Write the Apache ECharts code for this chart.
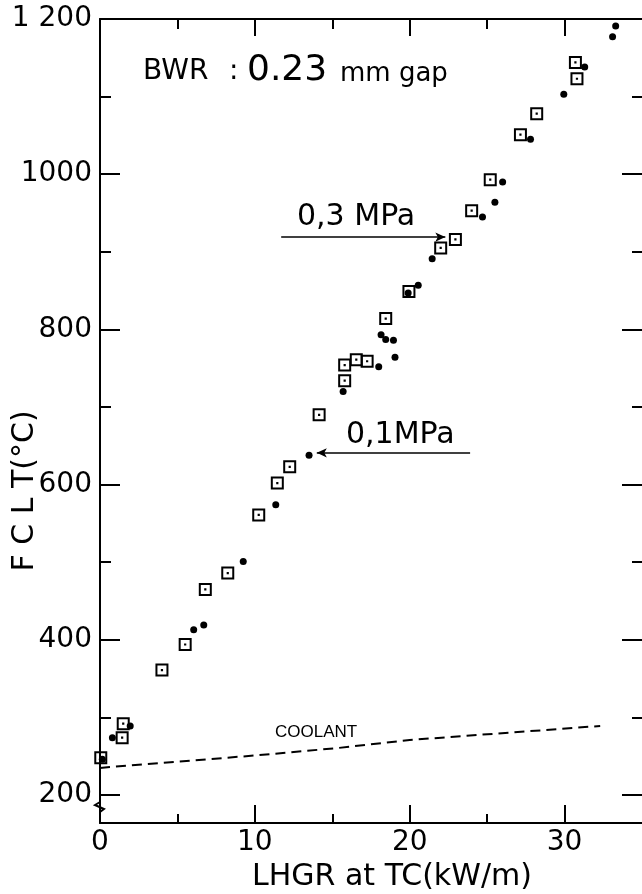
<!DOCTYPE html>
<html>
<head>
<meta charset="utf-8">
<script src="https://cdn.jsdelivr.net/npm/echarts@6/dist/echarts.min.js"></script>
<style>
  html, body { margin: 0; padding: 0; background: #fff; }
  #chart { width: 642px; height: 894px; }
</style>
</head>
<body>
<div id="chart"></div>
<script>
// 0.3 MPa runs (open squares with centre dot)
const sqX = [0.05, 1.43, 1.5, 4.0, 5.5, 6.8, 8.25, 10.25, 11.45, 12.25, 14.15, 15.8, 15.8, 16.55, 17.25, 18.45, 19.95, 22.0, 22.95, 24.0, 25.2, 27.15, 28.2, 30.7, 30.8];
const sqY = [248, 274, 292, 361, 394, 465, 486, 561, 602, 623, 690, 734, 754, 761, 759, 814, 849, 905, 916, 953, 993, 1051, 1078, 1144, 1123];

// 0.1 MPa runs (filled dots)
const dotX = [0.15, 0.8, 1.95, 6.05, 6.7, 9.25, 11.35, 13.5, 15.7, 18.0, 19.05, 18.15, 18.45, 18.95, 19.9, 20.55, 21.45, 24.7, 25.5, 26.0, 27.8, 29.95, 31.3, 33.1, 33.3];
const dotY = [246, 274, 289, 413, 419, 501, 574, 638, 720, 752, 764, 793, 787, 786, 847, 857, 891, 945, 964, 990, 1045, 1103, 1138, 1177, 1191];

// coolant temperature (dashed)
const coolX = [0, 10, 15.35, 20, 32.3];
const coolY = [235, 251, 260.6, 271, 289];

// annotation arrows [x, y]
const arrow03 = [[11.7, 919], [22.3, 919]];
const arrow01 = [[23.9, 641], [14.0, 641]];

const xMajor = [0, 10, 20, 30];
const xMinor = [5, 15, 25];
const yMajor = [200, 400, 600, 800, 1000, 1200];
const yMinor = [300, 500, 700, 900, 1100];

const FONT = 'DejaVu Sans';
const zip = (xs, ys) => xs.map((x, i) => [x, ys[i]]);

const squareSym = 'path://M0 0H13V13H0Z M2 2V11H11V2Z M5.4 5.4H7.6V7.6H5.4Z';
const box = { left: 100, right: -5, top: 19, bottom: 71 };
const blackLine = { show: true, onZero: false, lineStyle: { color: '#000', width: 2 } };
const noLine = { show: false, onZero: false };

// grid 0 carries the major ticks, grid 1 (same box) the minor ones
function xAx(grid, pos, ticks, len, extra) {
  return Object.assign({
    type: 'value', position: pos, min: 0, max: 35, gridIndex: grid,
    splitLine: { show: false },
    axisLine: noLine,
    axisTick: { show: true, inside: true, length: len, customValues: ticks, lineStyle: { color: '#000', width: 2 } },
    axisLabel: { show: false }
  }, extra || {});
}
function yAx(grid, pos, ticks, len, extra) {
  return Object.assign({
    type: 'value', position: pos, min: 164, max: 1200, gridIndex: grid,
    splitLine: { show: false },
    axisLine: noLine,
    axisTick: { show: true, inside: true, length: len, customValues: ticks, lineStyle: { color: '#000', width: 2 } },
    axisLabel: { show: false }
  }, extra || {});
}

const chart = echarts.init(document.getElementById('chart'));
chart.setOption({
  backgroundColor: '#fff',
  animation: false,
  grid: [box, box],
  xAxis: [
    xAx(0, 'bottom', xMajor, 18, {
      axisLine: blackLine,
      axisLabel: { show: true, customValues: xMajor, margin: 6, color: '#000', fontFamily: FONT, fontSize: 28 }
    }),
    xAx(0, 'top', xMajor.slice(1), 17, { axisLine: blackLine }),
    xAx(1, 'bottom', xMinor, 9),
    xAx(1, 'top', xMinor, 10)
  ],
  yAxis: [
    yAx(0, 'left', yMajor, 20, {
      axisLine: blackLine,
      axisLabel: {
        show: true, customValues: yMajor, margin: 8, color: '#000', fontFamily: FONT, fontSize: 28,
        formatter: v => (v === 1200 ? '1 200' : String(v))
      }
    }),
    yAx(0, 'right', yMajor, 20),
    yAx(1, 'left', yMinor, 11),
    yAx(1, 'right', yMinor, 10)
  ],
  series: [
    {
      name: 'coolant', type: 'line', xAxisIndex: 0, yAxisIndex: 0,
      data: zip(coolX, coolY), symbol: 'none',
      lineStyle: { color: '#000', width: 2, type: [10, 6] }
    },
    {
      name: '0.3 MPa', type: 'scatter', xAxisIndex: 0, yAxisIndex: 0,
      data: zip(sqX, sqY),
      symbol: squareSym, symbolSize: 13, itemStyle: { color: '#000', opacity: 1 },
      markLine: {
        silent: true, symbol: ['none', 'arrow'], symbolSize: [7, 10],
        label: { show: false },
        lineStyle: { color: '#000', width: 1.5, type: 'solid', opacity: 1 },
        data: [[{ coord: arrow03[0] }, { coord: arrow03[1] }]]
      }
    },
    {
      name: '0.1 MPa', type: 'scatter', xAxisIndex: 0, yAxisIndex: 0,
      data: zip(dotX, dotY),
      symbol: 'circle', symbolSize: 7, itemStyle: { color: '#000', opacity: 1 },
      markLine: {
        silent: true, symbol: ['none', 'arrow'], symbolSize: [7, 10],
        label: { show: false },
        lineStyle: { color: '#000', width: 1.5, type: 'solid', opacity: 1 },
        data: [[{ coord: arrow01[0] }, { coord: arrow01[1] }]]
      }
    }
  ],
  graphic: [
    { type: 'text', left: 143, top: 58, style: { text: 'BWR', font: '28px "DejaVu Sans"', fill: '#000' } },
    { type: 'text', left: 229, top: 58, style: { text: ':', font: '28px "DejaVu Sans"', fill: '#000' } },
    { type: 'text', left: 247, top: 53, style: { text: '0.23', font: '36px "DejaVu Sans"', fill: '#000' } },
    { type: 'text', left: 340, top: 61, style: { text: 'mm gap', font: '26px "DejaVu Sans"', fill: '#000' } },
    { type: 'text', left: 297, top: 202, style: { text: '0,3 MPa', font: '30px "DejaVu Sans"', fill: '#000' } },
    { type: 'text', left: 346, top: 420, style: { text: '0,1MPa', font: '30px "DejaVu Sans"', fill: '#000' } },
    { type: 'text', left: 275, top: 724, style: { text: 'COOLANT', font: '17px "Liberation Sans"', fill: '#000' } },
    { type: 'text', x: 392, y: 877, style: { text: 'LHGR at TC(kW/m)', font: '30px "DejaVu Sans"', fill: '#000', align: 'center', verticalAlign: 'middle' } },
    { type: 'text', x: 25, y: 491, rotation: Math.PI / 2, style: { text: 'F C L T(°C)', font: '30px "DejaVu Sans"', fill: '#000', align: 'center', verticalAlign: 'middle' } },
    { type: 'rect', shape: { x: 96, y: 800, width: 8, height: 12 }, style: { fill: '#fff' } },
    { type: 'polyline', shape: { points: [[100, 799], [100, 802], [95, 805], [104, 809], [100, 812], [100, 814]] }, style: { stroke: '#000', lineWidth: 2, fill: null } }
  ]
});
</script>
</body>
</html>
